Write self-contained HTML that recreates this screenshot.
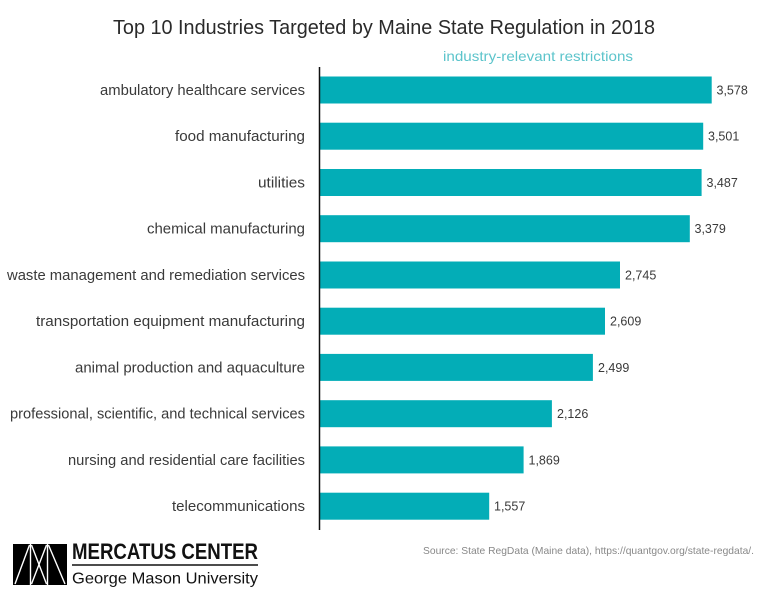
<!DOCTYPE html>
<html><head><meta charset="utf-8"><style>
html,body{margin:0;padding:0;background:#fff;}
svg{display:block;}
text{font-family:"Liberation Sans",sans-serif;}
</style></head><body>
<svg width="768" height="611" viewBox="0 0 768 611" xmlns="http://www.w3.org/2000/svg">
<rect width="768" height="611" fill="#fff"/>
<text x="113" y="34" font-size="20.5" fill="#2a2a2a" textLength="542" lengthAdjust="spacingAndGlyphs">Top 10 Industries Targeted by Maine State Regulation in 2018</text>
<text x="443" y="61" font-size="14" fill="#5cc4cb" textLength="190" lengthAdjust="spacingAndGlyphs">industry-relevant restrictions</text>
<g fill="#03adb7">
<rect x="319" y="76.5" width="392.7" height="27"/>
<rect x="319" y="122.7" width="384.2" height="27"/>
<rect x="319" y="169" width="382.6" height="27"/>
<rect x="319" y="215.2" width="370.8" height="27"/>
<rect x="319" y="261.5" width="301" height="27"/>
<rect x="319" y="307.7" width="286" height="27"/>
<rect x="319" y="353.9" width="273.9" height="27"/>
<rect x="319" y="400.2" width="232.9" height="27"/>
<rect x="319" y="446.4" width="204.6" height="27"/>
<rect x="319" y="492.7" width="170.2" height="27"/>
</g>
<line x1="319.5" y1="67" x2="319.5" y2="530" stroke="#111" stroke-width="1.5"/>
<g font-size="14.5" fill="#3a3a3a" text-anchor="end">
<text x="305" y="95" textLength="205" lengthAdjust="spacingAndGlyphs">ambulatory healthcare services</text>
<text x="305" y="141.2" textLength="130" lengthAdjust="spacingAndGlyphs">food manufacturing</text>
<text x="305" y="187.5" textLength="47" lengthAdjust="spacingAndGlyphs">utilities</text>
<text x="305" y="233.7" textLength="158" lengthAdjust="spacingAndGlyphs">chemical manufacturing</text>
<text x="305" y="280" textLength="298" lengthAdjust="spacingAndGlyphs">waste management and remediation services</text>
<text x="305" y="326.2" textLength="269" lengthAdjust="spacingAndGlyphs">transportation equipment manufacturing</text>
<text x="305" y="372.4" textLength="230" lengthAdjust="spacingAndGlyphs">animal production and aquaculture</text>
<text x="305" y="418.7" textLength="295" lengthAdjust="spacingAndGlyphs">professional, scientific, and technical services</text>
<text x="305" y="464.9" textLength="237" lengthAdjust="spacingAndGlyphs">nursing and residential care facilities</text>
<text x="305" y="511.2" textLength="133" lengthAdjust="spacingAndGlyphs">telecommunications</text>
</g>
<g font-size="12.5" fill="#3a3a3a">
<text x="716.5" y="94.5">3,578</text>
<text x="708" y="140.7">3,501</text>
<text x="706.5" y="187">3,487</text>
<text x="694.5" y="233.2">3,379</text>
<text x="625" y="279.5">2,745</text>
<text x="610" y="325.7">2,609</text>
<text x="598" y="371.9">2,499</text>
<text x="557" y="418.2">2,126</text>
<text x="528.5" y="464.4">1,869</text>
<text x="494" y="510.7">1,557</text>
</g>
<text x="423" y="554" font-size="10.5" fill="#888" textLength="331" lengthAdjust="spacingAndGlyphs">Source: State RegData (Maine data), https://quantgov.org/state-regdata/.</text>
<rect x="13" y="544" width="54" height="41" fill="#000"/>
<g stroke="#fff" stroke-width="1.4">
<line x1="30.5" y1="544" x2="30.5" y2="585"/>
<line x1="47.5" y1="544" x2="47.5" y2="585"/>
<line x1="15" y1="584" x2="29.5" y2="545"/>
<line x1="31.5" y1="545" x2="46.5" y2="584"/>
<line x1="46.5" y1="545" x2="31.5" y2="584"/>
<line x1="48.5" y1="545" x2="65" y2="584"/>
</g>
<text x="72" y="559" font-size="22" font-weight="bold" fill="#111" textLength="186" lengthAdjust="spacingAndGlyphs">MERCATUS CENTER</text>
<line x1="72" y1="565" x2="258" y2="565" stroke="#111" stroke-width="1.5"/>
<text x="72" y="583.5" font-size="16" fill="#111" textLength="186" lengthAdjust="spacingAndGlyphs">George Mason University</text>
</svg>
</body></html>
